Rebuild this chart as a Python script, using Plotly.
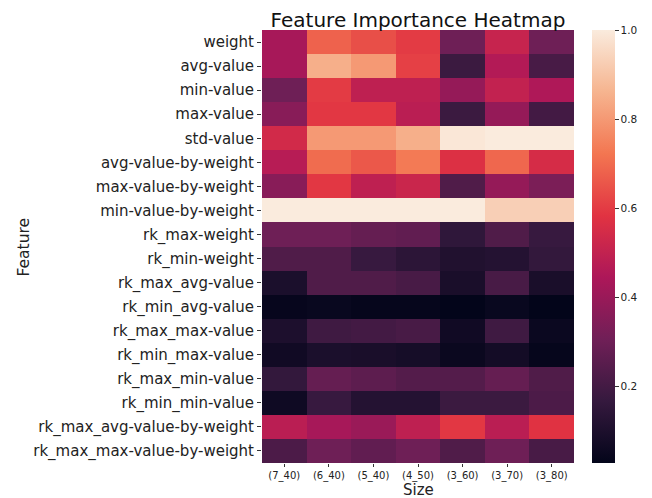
import plotly.graph_objects as go

features = ["weight", "avg-value", "min-value", "max-value", "std-value",
            "avg-value-by-weight", "max-value-by-weight", "min-value-by-weight",
            "rk_max-weight", "rk_min-weight", "rk_max_avg-value", "rk_min_avg-value",
            "rk_max_max-value", "rk_min_max-value", "rk_max_min-value", "rk_min_min-value",
            "rk_max_avg-value-by-weight", "rk_max_max-value-by-weight"]
sizes = ["(7_40)", "(6_40)", "(5_40)", "(4_50)", "(3_60)", "(3_70)", "(3_80)"]

values = [
    [0.43, 0.68, 0.64, 0.60, 0.30, 0.51, 0.30],
    [0.43, 0.85, 0.80, 0.61, 0.18, 0.46, 0.21],
    [0.30, 0.60, 0.49, 0.49, 0.39, 0.50, 0.45],
    [0.36, 0.59, 0.59, 0.48, 0.18, 0.39, 0.20],
    [0.54, 0.80, 0.80, 0.85, 0.99, 1.00, 1.00],
    [0.47, 0.70, 0.66, 0.73, 0.57, 0.69, 0.55],
    [0.36, 0.59, 0.49, 0.52, 0.23, 0.39, 0.33],
    [1.00, 1.00, 1.00, 1.00, 1.00, 0.93, 0.93],
    [0.30, 0.30, 0.28, 0.27, 0.15, 0.23, 0.17],
    [0.23, 0.23, 0.17, 0.14, 0.11, 0.12, 0.16],
    [0.095, 0.23, 0.23, 0.21, 0.09, 0.21, 0.09],
    [0.037, 0.045, 0.035, 0.035, 0.027, 0.045, 0.028],
    [0.10, 0.19, 0.20, 0.21, 0.065, 0.19, 0.05],
    [0.065, 0.095, 0.09, 0.08, 0.048, 0.075, 0.035],
    [0.16, 0.28, 0.26, 0.24, 0.24, 0.28, 0.23],
    [0.06, 0.17, 0.12, 0.12, 0.18, 0.18, 0.22],
    [0.48, 0.43, 0.40, 0.49, 0.59, 0.48, 0.58],
    [0.22, 0.30, 0.27, 0.30, 0.23, 0.30, 0.21],
]

rocket = [
    [0.0, "#03051a"],
    [0.143, "#35193e"],
    [0.286, "#701f57"],
    [0.429, "#ad1759"],
    [0.571, "#e13342"],
    [0.714, "#f37651"],
    [0.857, "#f6b48f"],
    [1.0, "#faebdd"],
]

# page has an 8px body margin, so the figure is 8px smaller and offset
W, H = 644, 490
L, R, T, B = 254, 78, 22, 35
PW, PH = W - L - R, H - T - B

fig = go.Figure(go.Heatmap(
    z=values, x=sizes, y=features, colorscale=rocket,
    xgap=0, ygap=0,
    colorbar=dict(
        x=(584 - L) / PW, xanchor="left", xpad=0, y=0.5, yanchor="middle", ypad=0,
        len=1.0, lenmode="fraction", thickness=23, outlinewidth=0,
        tickvals=[0.2, 0.4, 0.6, 0.8, 1.0], ticktext=["0.2", "0.4", "0.6", "0.8", "1.0"],
        ticks="outside", ticklen=4, tickcolor="#333",
        tickfont=dict(size=10.5, color="#222"),
    ),
))

fig.update_layout(
    width=W, height=H,
    margin=dict(l=L, r=R, t=T, b=B, autoexpand=False),
    paper_bgcolor="white", plot_bgcolor="white",
    font=dict(family="DejaVu Sans", color="#222"),
    title=dict(text="Feature Importance Heatmap", x=(L + PW / 2) / W, xanchor="center",
               y=1 - 12 / H, yanchor="middle", font=dict(size=20, color="#111")),
    xaxis=dict(automargin=False,
               tickfont=dict(size=10), ticks="outside", ticklen=3, tickcolor="#333",
               showgrid=False, zeroline=False, showline=False),
    yaxis=dict(automargin=False,
               tickfont=dict(size=15), ticks="outside", ticklen=4, tickcolor="#333",
               autorange="reversed", showgrid=False, zeroline=False, showline=False),
    annotations=[
        dict(text="Size", xref="paper", yref="paper", x=0.5, y=-(481.5 - T - PH) / PH,
             xanchor="center", yanchor="middle", showarrow=False, font=dict(size=15, color="#222")),
        dict(text="Feature", xref="paper", yref="paper", x=-(L - 15) / PW, y=0.5,
             xanchor="center", yanchor="middle", textangle=-90, showarrow=False,
             font=dict(size=15.5, color="#222")),
    ],
)

fig.write_html("out.html")
